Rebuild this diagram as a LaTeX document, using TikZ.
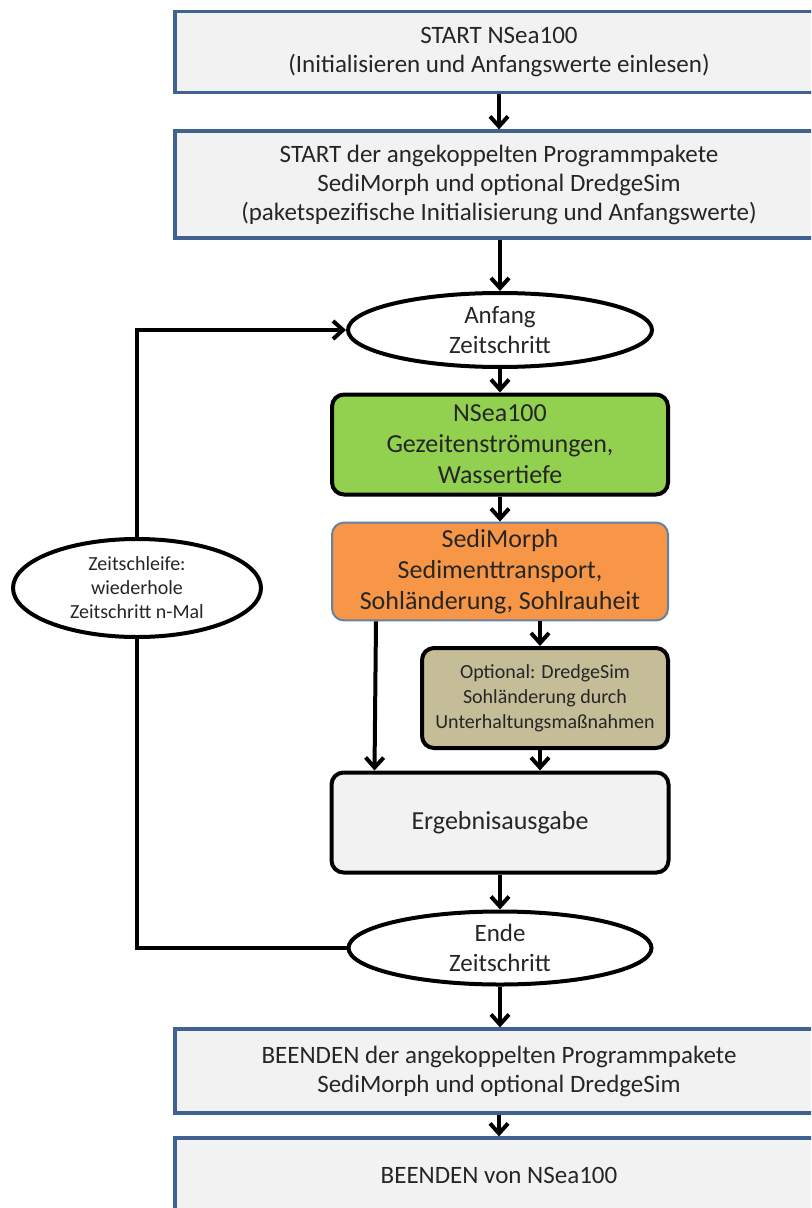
\documentclass[tikz,border=0pt]{standalone}
\usepackage{fontspec}
\setmainfont{Carlito}
\usepackage{xcolor}
\usetikzlibrary{shapes.geometric, positioning, arrows.meta, calc}

\definecolor{boxgray}{HTML}{F2F2F2}
\definecolor{boxblue}{HTML}{3F628F}
\definecolor{nseagreen}{HTML}{92D050}
\definecolor{sediorange}{HTML}{F79646}
\definecolor{dredgetan}{HTML}{C4BD97}
\definecolor{textgray}{HTML}{262626}

\begin{document}
\begin{tikzpicture}[
    x=0.5pt, y=-0.5pt,
    line width=2pt, >={Straight Barb[length=5pt, width=9pt]},
    framebox/.style={draw=boxblue, line width=1.6pt, rectangle, fill=boxgray, minimum width=324pt, align=center, font=\fontsize{12.5}{14.5}\selectfont, text=textgray},
    stepbox/.style={draw, rectangle, rounded corners=6pt, minimum width=168pt, minimum height=50pt, align=center, font=\fontsize{13}{15.5}\selectfont, text=textgray},
    timenode/.style={draw, ellipse, inner sep=0pt, minimum width=152pt, minimum height=37pt, align=center, fill=white, font=\fontsize{12.5}{15}\selectfont, text=textgray}
]
    \useasboundingbox (0,0) rectangle (811,1208);
    \clip (0,0) rectangle (811,1208);

    % ================= START =================
    \node[framebox, minimum height=40.5pt] (start) at (499, 52) {START NSea100\\(Initialisieren und Anfangswerte einlesen)};
    \node[framebox, minimum height=53.5pt] (kopp) at (499, 184.5) {START der angekoppelten Programmpakete\\SediMorph und optional DredgeSim\\(paketspezifische Initialisierung und Anfangswerte)};

    % ================= ZEITSCHRITT =================
    \node[timenode] (anfang) at (500, 330) {Anfang\\Zeitschritt};
    \node[stepbox, fill=nseagreen] (nsea) at (500, 444.5) {NSea100\\Gezeitenströmungen,\\Wassertiefe};
    \node[stepbox, fill=sediorange, draw=boxblue!80, line width=1pt, minimum height=48.5pt] (sedi) at (500, 571.5) {SediMorph\\Sedimenttransport,\\Sohländerung, Sohlrauheit};
    \node[stepbox, fill=dredgetan, minimum width=123pt, font=\fontsize{10}{12.5}\selectfont] (dredge) at (545, 698) {Optional: DredgeSim\\Sohländerung durch\\Unterhaltungsmaßnahmen};
    \node[stepbox, fill=boxgray, minimum width=168.5pt] (ergebnis) at (500, 822.5) {Ergebnisausgabe};
    \node[timenode, minimum width=151.5pt, minimum height=36.5pt] (ende) at (500, 948) {Ende\\Zeitschritt};

    % ================= SCHLEIFE =================
    \node[timenode, minimum width=124pt, minimum height=49pt, font=\fontsize{10}{12}\selectfont] (schleife) at (137, 588) {Zeitschleife:\\wiederhole\\Zeitschritt n-Mal};

    % ================= BEENDEN =================
    \node[framebox, minimum height=42pt] (beenden) at (499, 1071) {BEENDEN der angekoppelten Programmpakete\\SediMorph und optional DredgeSim};
    \node[framebox, minimum height=37pt] (ende_nsea) at (499, 1175) {BEENDEN von NSea100};

    % ================= CONNECTIONS =================
    \draw[->] (start) -- (kopp);
    \draw[->] (kopp.south -| anfang.north) -- (anfang);
    \draw[->] (anfang) -- (nsea);
    \draw[->] (nsea) -- (sedi);
    \draw[->] ([xshift=-2.5pt]sedi.south -| dredge.north) -- ([xshift=-2.5pt]dredge.north);
    \draw[->] ([xshift=-2.5pt]dredge.south) -- ([xshift=-2.5pt]dredge.south |- ergebnis.north);
    \draw[->] ([xshift=22.5pt]sedi.south west) -- ([xshift=22.5pt]ergebnis.north west);
    \draw[->] (ergebnis) -- (ende);
    \draw[->] (ende.south) -- (ende.south |- beenden.north);
    \draw[->] (beenden) -- (beenden.north |- ende_nsea.north);

    % Zeitschleife zurueck zum Anfang
    \draw (ende.west) -| (schleife.south);
    \draw[->] (schleife.north) |- (anfang.west);

\end{tikzpicture}
\end{document}
